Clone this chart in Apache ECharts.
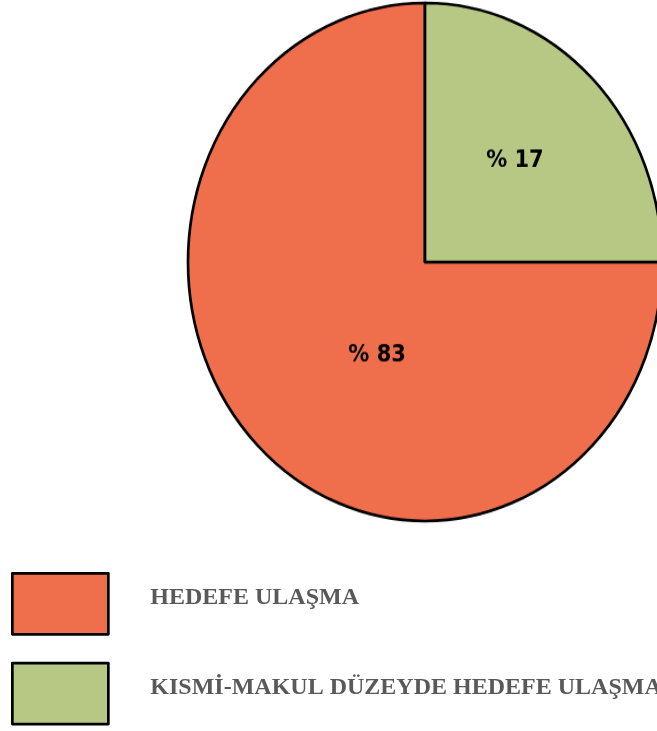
<!DOCTYPE html>
<html>
<head>
<meta charset="utf-8">
<script src="https://cdn.jsdelivr.net/npm/echarts@6/dist/echarts.min.js"></script>
<style>
html,body{margin:0;padding:0;background:#fff;overflow:hidden;}
#wrap{position:relative;width:657px;height:731px;overflow:hidden;}
#pie{position:absolute;left:0;top:0;width:657px;height:731px;transform-origin:425px 262px;transform:scaleY(1.093);}
#leg{position:absolute;left:0;top:0;width:657px;height:731px;}
</style>
</head>
<body>
<div id="wrap"><div id="pie"></div><div id="leg"></div></div>
<script>
// Categories (legend order)
const categories = ['HEDEFE ULAŞMA', 'KISMİ-MAKUL DÜZEYDE HEDEFE ULAŞMA'];
// Slice shares as drawn in the picture (angular size)
const sliceShares = [75, 25];
// Label texts as printed on the slices
const labelTexts = ['% 83', '% 17'];
const colors = ['#EF6E4C', '#B7C885'];
const labelOffsets = [[38, 0], [4, -7]];

const pieData = categories.map((c, i) => ({
  name: c,
  value: sliceShares[i],
  itemStyle: { color: colors[i] },
  label: { formatter: labelTexts[i], offset: labelOffsets[i] }
}));

const pieChart = echarts.init(document.getElementById('pie'), null, { renderer: 'canvas' });
pieChart.setOption({
  animation: false,
  series: [{
    type: 'pie',
    center: [425, 262],
    radius: [0, 237],
    startAngle: 0,
    clockwise: true,
    silent: true,
    itemStyle: { borderColor: '#000', borderWidth: 2.7 },
    label: {
      show: true, position: 'inside',
      color: '#000', fontFamily: 'DejaVu Sans', fontWeight: 'bold', fontSize: 21
    },
    labelLine: { show: false },
    data: pieData
  }]
});

const legChart = echarts.init(document.getElementById('leg'), null, { renderer: 'canvas' });
legChart.setOption({
  animation: false,
  legend: {
    orient: 'vertical',
    left: 11,
    top: 572,
    padding: 0,
    itemWidth: 96,
    itemHeight: 61,
    itemGap: 26,
    icon: 'rect',
    selectedMode: false,
    data: categories,
    itemStyle: { borderColor: '#000', borderWidth: 2.7 },
    formatter: function (name) { return '{t|' + name + '}'; },
    textStyle: {
      color: '#595959', fontFamily: 'Liberation Serif', fontWeight: 'bold', fontSize: 24,
      padding: [0, 0, 0, 37],
      rich: {
        t: {
          color: '#595959', fontFamily: 'Liberation Serif', fontWeight: 'bold', fontSize: 24,
          padding: [0, 0, 12, 0]
        }
      }
    }
  },
  series: [{
    type: 'pie',
    radius: [0, 0],
    silent: true,
    label: { show: false },
    itemStyle: { borderColor: '#000', borderWidth: 2.7 },
    data: categories.map((c, i) => ({ name: c, value: sliceShares[i], itemStyle: { color: colors[i] } }))
  }]
});
</script>
</body>
</html>
